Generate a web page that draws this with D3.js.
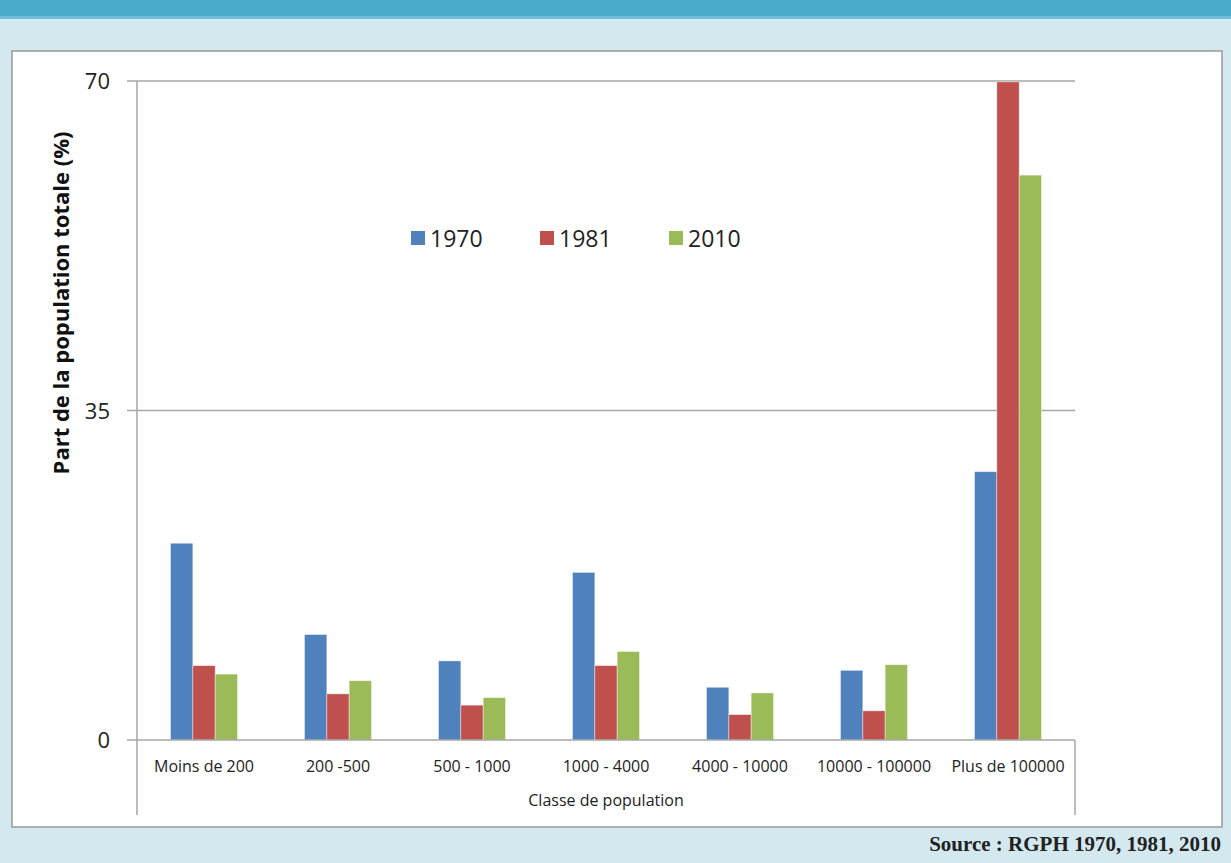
<!DOCTYPE html>
<html>
<head>
<meta charset="utf-8">
<script src="https://cdn.jsdelivr.net/npm/d3@7"></script>
<style>
  body { margin: 0; background: #d3e9ef; }
  svg { display: block; }
</style>
</head>
<body>
<div id="chart"></div>
<script>
// data
var categories = ["Moins de 200", "200 -500", "500 - 1000", "1000 - 4000", "4000 - 10000", "10000 - 100000", "Plus de 100000"];
var years = ["1970", "1981", "2010"];
var v1970 = [20.9, 11.2, 8.4, 17.8, 5.6, 7.4, 28.5];
var v1981 = [7.9, 4.9, 3.7, 7.9, 2.7, 3.1, 69.9];
var v2010 = [7.0, 6.3, 4.5, 9.4, 5.0, 8.0, 60.0];
var yTicks = [0, 35, 70];
var colours = ["#4f81bd", "#c0504d", "#9bbb59"];

var W = 1231, H = 863;
var m = { left: 137, right: 1075, top: 81, bottom: 740 };

var svg = d3.select("#chart").append("svg").attr("width", W).attr("height", H);

// page decoration
svg.append("rect").attr("x", 0).attr("y", 0).attr("width", W).attr("height", H).attr("fill", "#d3e9ef");
svg.append("rect").attr("x", 0).attr("y", 0).attr("width", W).attr("height", 16).attr("fill", "#4aacc8");
svg.append("rect").attr("x", 0).attr("y", 16).attr("width", W).attr("height", 3).attr("fill", "#6cc0d9");
svg.append("rect").attr("x", 12).attr("y", 51).attr("width", 1210).attr("height", 776)
  .attr("fill", "#fff").attr("stroke", "#999").attr("stroke-width", 1.5);

var x = d3.scaleBand().domain(categories).range([m.left, m.right]);
var y = d3.scaleLinear().domain([0, 70]).range([m.bottom, m.top]);
var inner = d3.scaleBand().domain(years).range([0, x.bandwidth() / 2]);

var series = [v1970, v1981, v2010];

// gridlines
svg.append("g").selectAll("line").data(yTicks.filter(function(d) { return d > 0; }))
  .enter().append("line")
  .attr("x1", m.left - 10).attr("x2", m.right)
  .attr("y1", function(d) { return y(d); }).attr("y2", function(d) { return y(d); })
  .attr("stroke", "#a6a6a6").attr("stroke-width", 1.5);

// bars
years.forEach(function(yr, i) {
  svg.append("g").selectAll("rect").data(series[i])
    .enter().append("rect")
    .attr("x", function(d, j) { return x(categories[j]) + x.bandwidth() / 4 + inner(yr); })
    .attr("y", function(d) { return y(d); })
    .attr("width", inner.bandwidth())
    .attr("height", function(d) { return y(0) - y(d); })
    .attr("fill", colours[i])
    .attr("stroke", "rgba(255,255,255,0.5)").attr("stroke-width", 0.8);
});

// axes lines
var axisCol = "#a6a6a6";
svg.append("line").attr("x1", m.left).attr("x2", m.left).attr("y1", m.top).attr("y2", 815)
  .attr("stroke", axisCol).attr("stroke-width", 1.5);
svg.append("line").attr("x1", m.right).attr("x2", m.right).attr("y1", m.bottom).attr("y2", 815)
  .attr("stroke", axisCol).attr("stroke-width", 1.5);
svg.append("line").attr("x1", m.left - 10).attr("x2", m.right).attr("y1", y(0)).attr("y2", y(0))
  .attr("stroke", axisCol).attr("stroke-width", 1.5);

// y tick labels
svg.append("g").selectAll("text").data(yTicks).enter().append("text")
  .attr("x", 110).attr("y", function(d) { return y(d) + 8; })
  .attr("text-anchor", "end")
  .attr("font-family", "'Open Sans', sans-serif").attr("font-size", 22).attr("fill", "#222")
  .text(function(d) { return d; });

// category labels
svg.append("g").selectAll("text").data(categories).enter().append("text")
  .attr("x", function(d) { return x(d) + x.bandwidth() / 2; })
  .attr("y", 772)
  .attr("text-anchor", "middle")
  .attr("font-family", "'Open Sans', sans-serif").attr("font-size", 16).attr("fill", "#222")
  .text(function(d) { return d; });

svg.append("text").attr("x", (m.left + m.right) / 2).attr("y", 806)
  .attr("text-anchor", "middle")
  .attr("font-family", "'Open Sans', sans-serif").attr("font-size", 16).attr("fill", "#222")
  .text("Classe de population");

// y title
svg.append("text")
  .attr("transform", "translate(69,303) rotate(-90)")
  .attr("text-anchor", "middle")
  .attr("font-family", "'Open Sans', sans-serif").attr("font-weight", "bold").attr("font-size", 22).attr("fill", "#111")
  .text("Part de la population totale (%)");

// legend
var lg = svg.append("g").selectAll("g").data(years).enter().append("g")
  .attr("transform", function(d, i) { return "translate(" + (411 + i * 129) + ",231)"; });
lg.append("rect").attr("width", 14).attr("height", 14).attr("fill", function(d, i) { return colours[i]; });
lg.append("text").attr("x", 19).attr("y", 16)
  .attr("font-family", "'Open Sans', sans-serif").attr("font-size", 23).attr("fill", "#222")
  .text(function(d) { return d; });

// source
svg.append("text").attr("x", 1221).attr("y", 851).attr("text-anchor", "end")
  .attr("font-family", "'Liberation Serif', serif").attr("font-weight", "bold").attr("font-size", 21).attr("fill", "#222")
  .text("Source : RGPH 1970, 1981, 2010");
</script>
</body>
</html>
